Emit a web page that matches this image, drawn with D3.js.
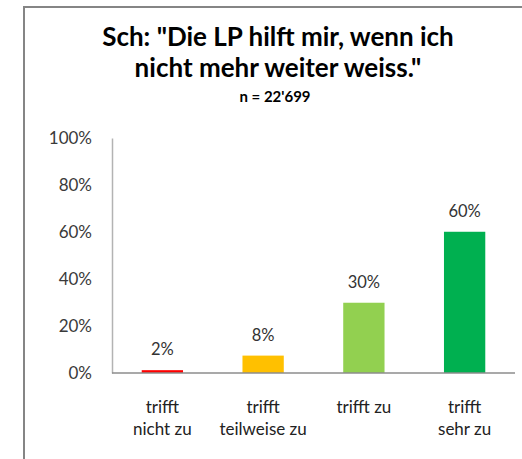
<!DOCTYPE html>
<html lang="de">
<head>
    <meta charset="UTF-8">
    <script src="https://d3js.org/d3.v7.min.js"></script>
    <title>Die LP hilft mir</title>
    <style>
        html,
        body {
            margin: 0px;
            padding: 0px;
            background-color: #ffffff;
            font-family: Lato, sans-serif;
        }
    </style>
</head>
<body>
    <div id="chart"></div>
    <script>
        let categories = [['trifft', 'nicht zu'], ['trifft', 'teilweise zu'], ['trifft zu'], ['trifft', 'sehr zu']];
        let values = [1.2, 7.4, 29.9, 60.1];
        let valueLabels = ['2%', '8%', '30%', '60%'];
        let colors = ['#ff0000', '#ffc000', '#92d050', '#00b050'];
        let yTicks = [0, 20, 40, 60, 80, 100];

        let width = 522;
        let height = 459;

        let margin = {
            top: 138,
            bottom: 86,
            left: 112,
            right: 7
        }

        let svg = d3.select('#chart').append('svg')
            .attr('width', width)
            .attr('height', height);

        // frame (only top and left edges are visible)
        svg.append('path')
            .attr('d', `M24,${height} L24,7 L${width},7`)
            .attr('fill', 'none')
            .attr('stroke', '#858585')
            .attr('stroke-width', 2);

        // title
        let title = svg.append('text')
            .attr('text-anchor', 'middle')
            .attr('font-weight', 'bold')
            .attr('fill', '#000');
        title.append('tspan').attr('x', 278).attr('y', 46).attr('font-size', 26).text('Sch: "Die LP hilft mir, wenn ich');
        title.append('tspan').attr('x', 278).attr('y', 77).attr('font-size', 26).text('nicht mehr weiter weiss."');
        title.append('tspan').attr('x', 275).attr('y', 102).attr('font-size', 15).text("n = 22'699");

        let x = d3.scaleBand()
            .domain(d3.range(values.length))
            .range([margin.left, width - margin.right])
            .paddingInner(0.59)
            .paddingOuter(0.295);

        let y = d3.scaleLinear()
            .domain([0, 100])
            .range([height - margin.bottom, margin.top]);

        let yAxis = svg.append('g')
            .attr('transform', `translate(${margin.left},0)`)
            .call(d3.axisLeft(y).tickValues(yTicks).tickSize(0).tickPadding(20).tickFormat(d => d + '%'));
        yAxis.select('.domain').attr('stroke', '#b3b3b3').attr('stroke-width', 1.5);
        yAxis.selectAll('text')
            .attr('font-family', 'Lato, sans-serif')
            .attr('font-size', 17)
            .attr('fill', '#3a3a3a');

        svg.selectAll('rect.bar')
            .data(values)
            .join('rect')
            .attr('class', 'bar')
            .attr('x', (d, i) => x(i))
            .attr('y', d => y(d))
            .attr('width', x.bandwidth())
            .attr('height', d => y(0) - y(d))
            .attr('fill', (d, i) => colors[i]);

        svg.append('line')
            .attr('x1', margin.left)
            .attr('x2', width - margin.right)
            .attr('y1', y(0))
            .attr('y2', y(0))
            .attr('stroke', '#8c8c8c')
            .attr('stroke-width', 1.5);

        svg.selectAll('text.val')
            .data(values)
            .join('text')
            .attr('class', 'val')
            .attr('x', (d, i) => x(i) + x.bandwidth() / 2)
            .attr('y', d => y(d) - 15)
            .attr('text-anchor', 'middle')
            .attr('font-size', 16.5)
            .attr('fill', '#333')
            .text((d, i) => valueLabels[i]);

        let cat = svg.selectAll('text.cat')
            .data(categories)
            .join('text')
            .attr('class', 'cat')
            .attr('text-anchor', 'middle')
            .attr('font-size', 17)
            .attr('fill', '#222');
        cat.selectAll('tspan')
            .data((d, i) => d.map(t => ({ t: t, i: i })))
            .join('tspan')
            .attr('x', d => x(d.i) + x.bandwidth() / 2)
            .attr('y', (d, j) => 413 + j * 22)
            .text(d => d.t);
    </script>
</body>
</html>
